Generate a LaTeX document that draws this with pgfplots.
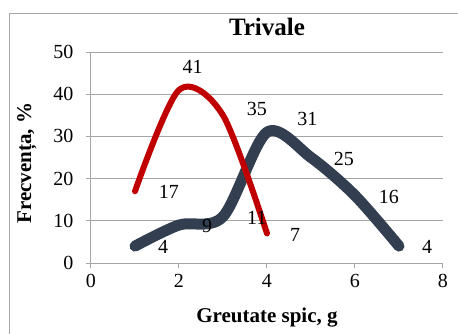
\documentclass[border=0pt]{standalone}
\usepackage{fontspec}
\setmainfont{Liberation Serif}
\usepackage{pgfplots}
\pgfplotsset{compat=1.18}
\definecolor{darkser}{RGB}{51,63,80}
\definecolor{redser}{RGB}{192,0,0}
\definecolor{gridgray}{RGB}{166,166,166}
\begin{document}
\begin{tikzpicture}[x=1pt,y=1pt]
\begin{axis}[
  scale only axis, width=352pt, height=211pt,
  xmin=0, xmax=8, ymin=0, ymax=50,
  xtick={0,2,4,6,8}, ytick={0,10,20,30,40,50},
  axis lines*=left,
  axis line style={gridgray, line width=1pt},
  ymajorgrids, grid style={gridgray, line width=1pt},
  tick style={gridgray, line width=1pt},
  tick align=outside, major tick length=5pt,
  ticklabel style={font=\fontsize{20}{24}\selectfont, text=black},
  /pgf/number format/assume math mode=true,
  yticklabel style={xshift=-9pt},
  xticklabel style={yshift=-3pt},
  title={Trivale},
  title style={font=\fontsize{25}{30}\selectfont\bfseries, at={(axis description cs:0.5,1.052)}, anchor=base},
  xlabel={Greutate spic, g},
  xlabel style={font=\fontsize{21}{25}\selectfont\bfseries, at={(axis description cs:0.5,-0.28)}, anchor=base},
  ylabel={Frecvența, \%},
  ylabel style={font=\fontsize{21}{25}\selectfont\bfseries, at={(axis description cs:-0.182,0.474)}, anchor=center},
  clip=false,
]
\coordinate (O) at (axis cs:0,0);
\addplot[darkser, line width=11pt, smooth, tension=0.5, line cap=round, line join=round] coordinates {
  (1,4) (2,9) (3,11) (4,31) (5,25) (6,16) (7,4)};
\addplot[redser, line width=6pt, smooth, tension=0.5, line cap=round, line join=round] coordinates {
  (1,17) (2,41) (3,35) (4,7)};
\begin{scope}[every node/.style={font=\fontsize{20}{24}\selectfont, anchor=center, inner sep=0pt}]
\node at (axis cs:1.64,3.8) {4};
\node at (axis cs:2.64,8.8) {9};
\node at (axis cs:3.77,10.7) {11};
\node at (axis cs:4.92,34.1) {31};
\node at (axis cs:5.75,24.6) {25};
\node at (axis cs:6.77,15.6) {16};
\node at (axis cs:7.64,3.8) {4};
\node at (axis cs:1.77,16.8) {17};
\node at (axis cs:2.31,46.4) {41};
\node at (axis cs:3.77,36.6) {35};
\node at (axis cs:4.64,6.6) {7};
\end{scope}
\end{axis}
\begin{scope}[shift={(O)}]
\draw[gridgray, line width=1pt] (-81,-80) -- (-81,250) -- (380,250);
\pgfresetboundingbox
\path[use as bounding box] (-91,-70) rectangle (367,263);
\end{scope}
\end{tikzpicture}
\end{document}
